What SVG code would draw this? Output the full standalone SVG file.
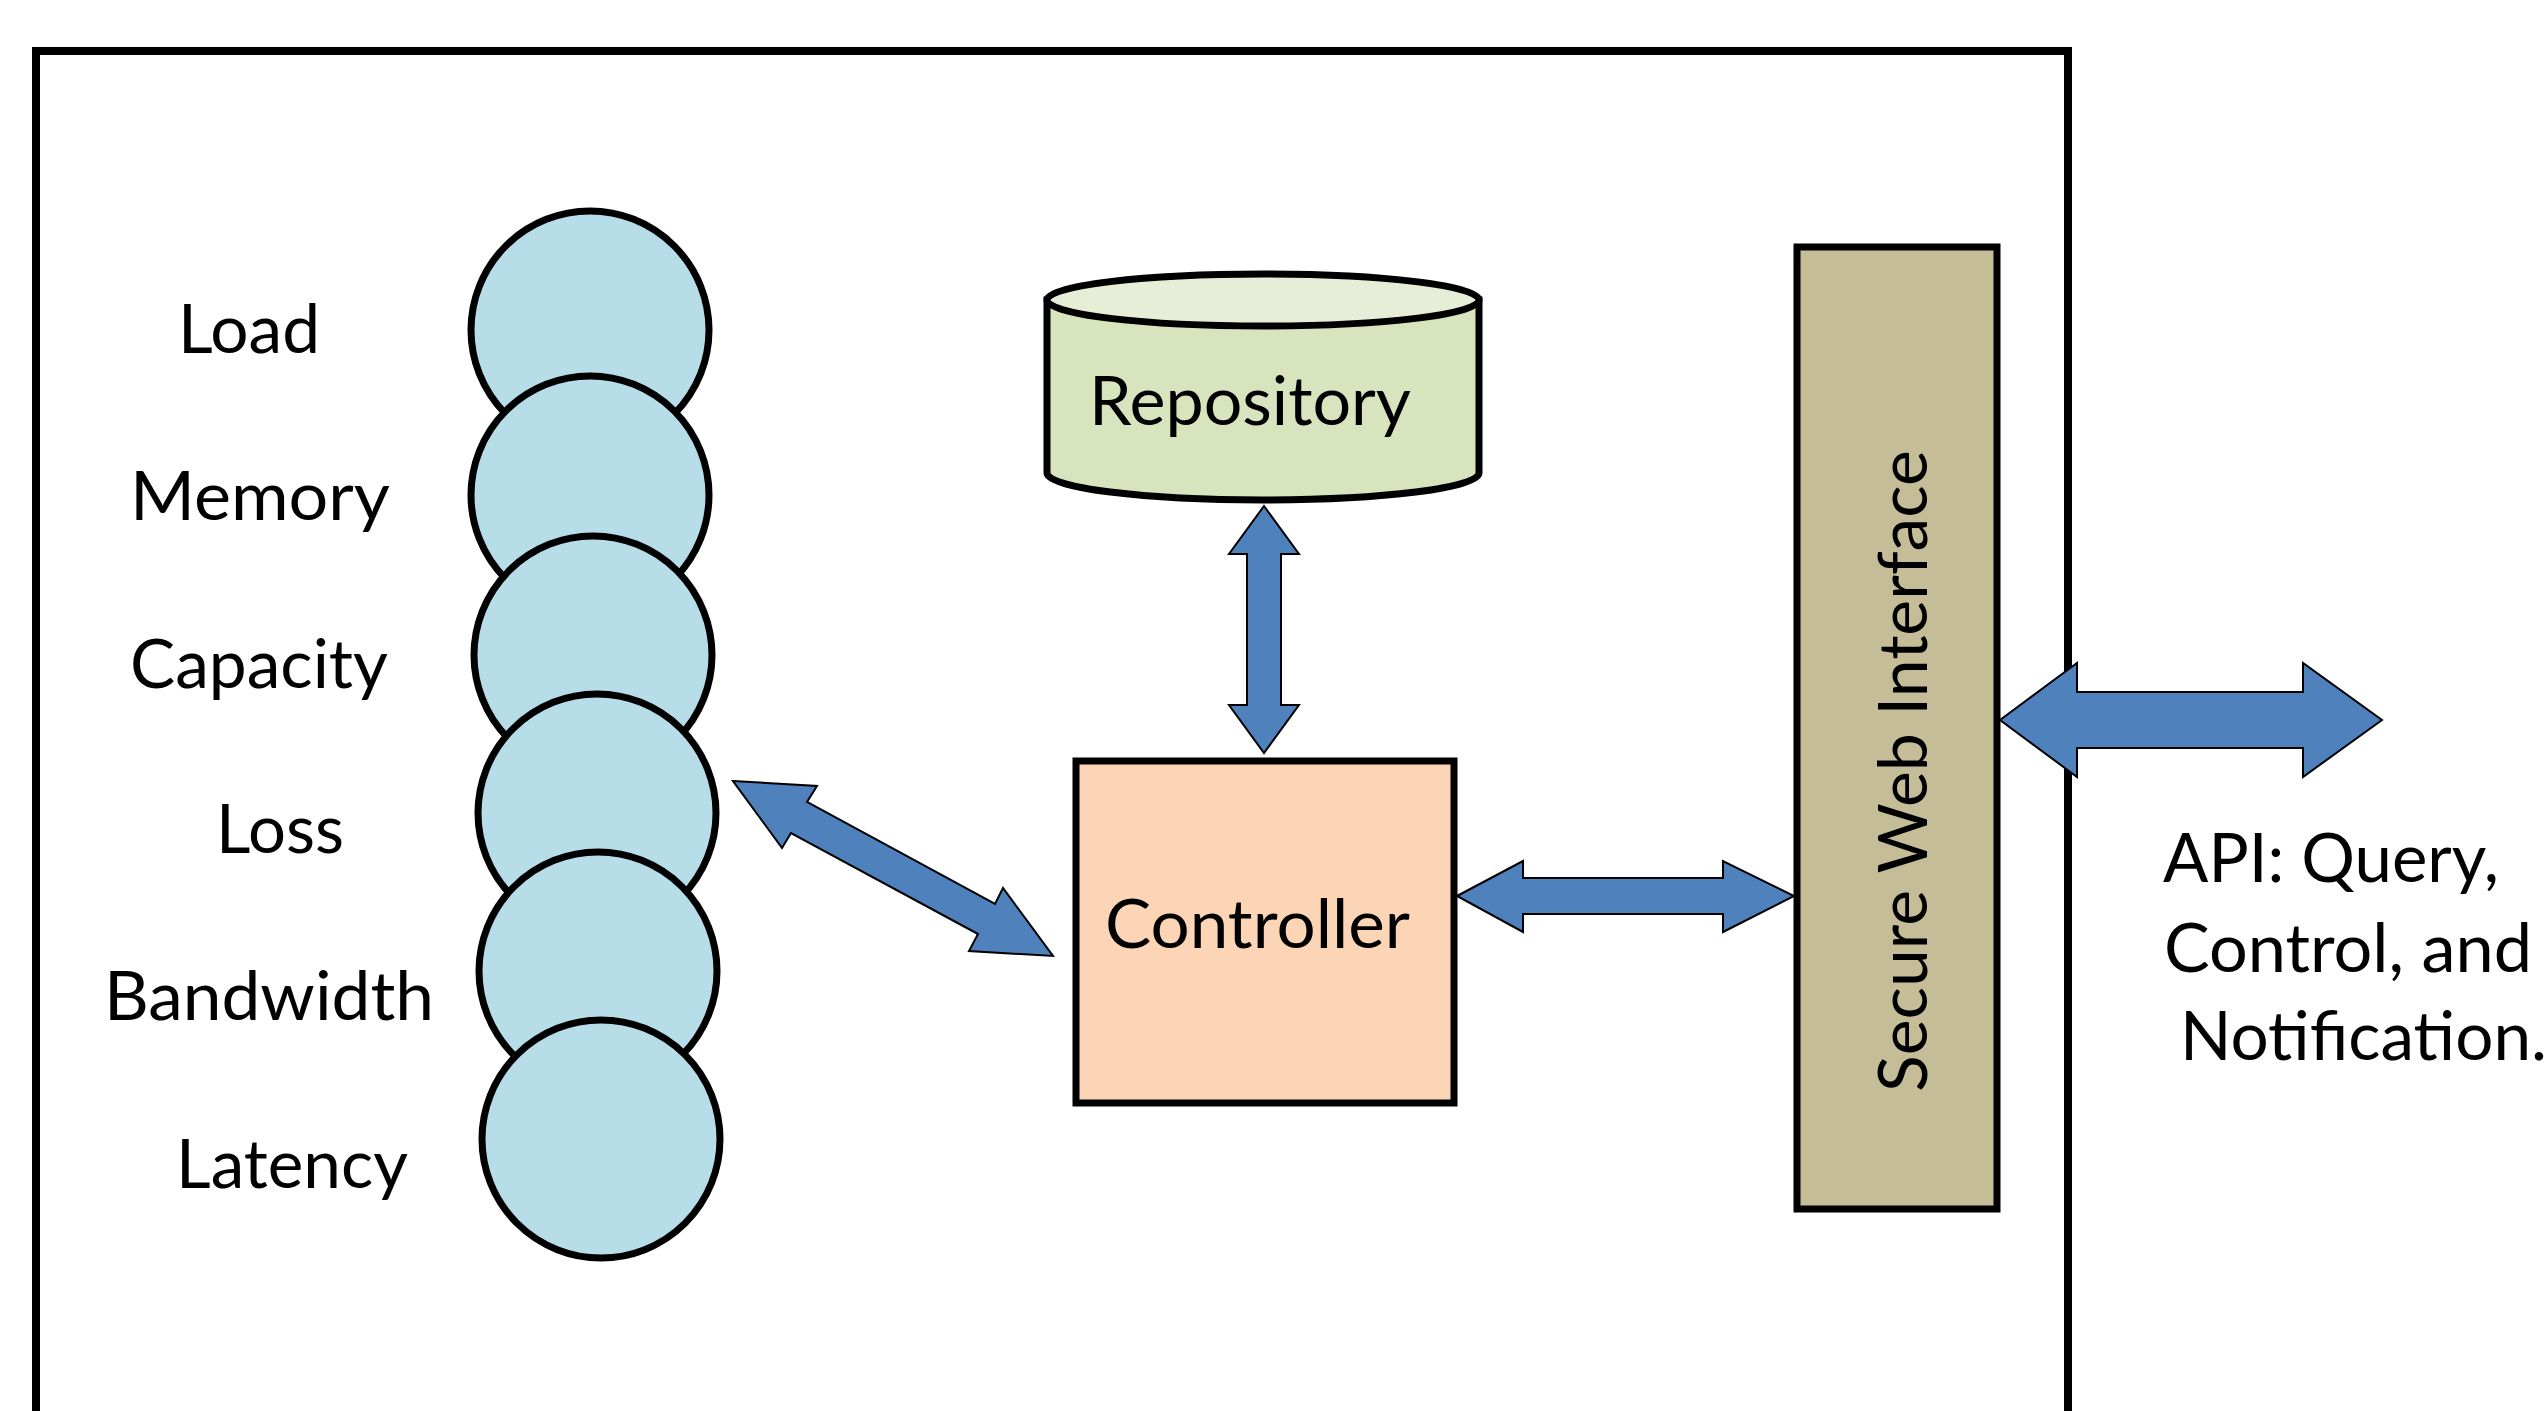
<svg xmlns="http://www.w3.org/2000/svg" width="2548" height="1411" viewBox="0 0 2548 1411">
<style>
.lbl{font-family:Lato,"Open Sans","Liberation Sans",sans-serif;font-size:67px;fill:#000}
.node{stroke:#000;stroke-width:7}
.arrow{fill:#4F81BD;stroke:#000;stroke-width:2;stroke-linejoin:miter}
</style>
<rect width="2548" height="1411" fill="#fff"/>
<g id="frame"><rect x="36" y="51" width="2032" height="1420" fill="none" stroke="#000" stroke-width="8"/></g>
<g id="metrics">
<g id="load"><circle class="node" cx="590" cy="330" r="119" fill="#B7DDE8"/></g>
<g id="memory"><circle class="node" cx="590" cy="495" r="119" fill="#B7DDE8"/></g>
<g id="capacity"><circle class="node" cx="593" cy="655" r="119" fill="#B7DDE8"/></g>
<g id="loss"><circle class="node" cx="597" cy="813" r="119" fill="#B7DDE8"/></g>
<g id="bandwidth"><circle class="node" cx="598" cy="971" r="119" fill="#B7DDE8"/></g>
<g id="latency"><circle class="node" cx="601" cy="1139" r="119" fill="#B7DDE8"/></g>
</g>
<g id="labels">
<text class="lbl" x="178" y="353" textLength="142" lengthAdjust="spacingAndGlyphs">Load</text>
<text class="lbl" x="130" y="520" textLength="260" lengthAdjust="spacingAndGlyphs">Memory</text>
<text class="lbl" x="130" y="688" textLength="258" lengthAdjust="spacingAndGlyphs">Capacity</text>
<text class="lbl" x="216" y="853" textLength="128" lengthAdjust="spacingAndGlyphs">Loss</text>
<text class="lbl" x="104" y="1020" textLength="330" lengthAdjust="spacingAndGlyphs">Bandwidth</text>
<text class="lbl" x="176" y="1188" textLength="232" lengthAdjust="spacingAndGlyphs">Latency</text>
</g>
<g id="repository">
<path class="node" d="M1047,300 L1047,473 A216,27 0 0 0 1479,473 L1479,300 Z" fill="#D7E4BD"/>
<ellipse class="node" cx="1263" cy="300" rx="216" ry="26" fill="#E6EED8"/>
<text class="lbl" x="1089" y="425" textLength="322" lengthAdjust="spacingAndGlyphs">Repository</text>
</g>
<g id="controller">
<rect class="node" x="1076" y="761" width="378" height="342" fill="#FBD5B5" stroke-width="8"/>
<text class="lbl" x="1105" y="948" textLength="305" lengthAdjust="spacingAndGlyphs">Controller</text>
</g>
<g id="secure-web-interface">
<rect class="node" x="1797" y="247" width="200" height="962" fill="#C4BD97" stroke-width="8"/>
<text class="lbl" transform="translate(1927,771) rotate(-90)" x="0" y="0" text-anchor="middle" textLength="642" lengthAdjust="spacingAndGlyphs">Secure Web Interface</text>
</g>
<g id="api-label">
<text class="lbl" x="2163" y="882" textLength="336" lengthAdjust="spacingAndGlyphs">API: Query,</text>
<text class="lbl" x="2164" y="972" textLength="368" lengthAdjust="spacingAndGlyphs">Control, and</text>
<text class="lbl" x="2180" y="1060" textLength="367" lengthAdjust="spacingAndGlyphs">Notification.</text>
</g>
<g id="connectors">
<polygon class="arrow" points="733,781 817,786 807,802 995,904 1003,888 1053,956 969,951 978,934 791,833 782,848"/>
<polygon class="arrow" points="1264,506 1299,554 1281,554 1281,705 1299,705 1264,753 1229,705 1247,705 1247,554 1229,554"/>
<polygon class="arrow" points="1457,896 1523,861 1523,878 1723,878 1723,861 1794,896 1723,932 1723,914 1523,914 1523,932"/>
<polygon class="arrow" points="2000,720 2077,663 2077,692 2303,692 2303,663 2382,720 2303,777 2303,748 2077,748 2077,777"/>
</g>
</svg>
